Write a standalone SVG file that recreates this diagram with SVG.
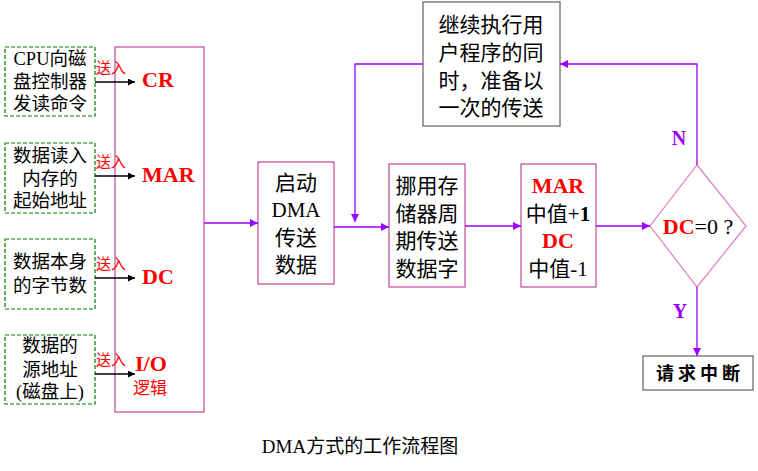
<svg xmlns="http://www.w3.org/2000/svg" width="758" height="471" viewBox="0 0 758 471">
<defs>
<marker id="ab" viewBox="0 0 10 10" refX="10" refY="5" markerWidth="7" markerHeight="7" orient="auto" markerUnits="userSpaceOnUse"><path d="M0,0 L10,5 L0,10 z" fill="#000"/></marker>
<marker id="ap" viewBox="0 0 10 10" refX="10" refY="5" markerWidth="8" markerHeight="8" orient="auto" markerUnits="userSpaceOnUse"><path d="M0,0 L10,5 L0,10 z" fill="#9900FF"/></marker>
</defs>
<style>
text{font-family:"Liberation Serif","Noto Sans CJK SC",serif;fill:#000}
.src{fill:#fff;stroke:#008000;stroke-width:1.2;stroke-dasharray:4,2}
.box{fill:#fff;stroke:#C0479A;stroke-width:1.2}
.gbox{fill:#fff;stroke:#808080;stroke-width:1.5}
.t18{font-size:18.5px}
.t21{font-size:21px}
.red{fill:#FF0000}
.reg{font-size:22px;font-weight:bold;fill:#FF0000}
.sr{font-size:15px;fill:#FF0000}
.pl{fill:none;stroke:#9900FF;stroke-width:1.3}
.bl{fill:none;stroke:#000;stroke-width:1.3}
.lab{font-size:20px;font-weight:bold;fill:#9900FF}
</style>
<rect width="758" height="471" fill="#fff"/>

<g id="src1">
<rect class="src" x="5" y="47" width="90" height="69"/>
<text class="t18" x="50" y="65" text-anchor="middle">CPU向磁</text>
<text class="t18" x="50" y="88" text-anchor="middle">盘控制器</text>
<text class="t18" x="50" y="110" text-anchor="middle">发读命令</text>
</g>
<g id="src2">
<rect class="src" x="5" y="143" width="90" height="70"/>
<text class="t18" x="50" y="162" text-anchor="middle">数据读入</text>
<text class="t18" x="50" y="185" text-anchor="middle">内存的</text>
<text class="t18" x="50" y="207" text-anchor="middle">起始地址</text>
</g>
<g id="src3">
<rect class="src" x="5" y="239" width="90" height="70"/>
<text class="t18" x="50" y="268" text-anchor="middle">数据本身</text>
<text class="t18" x="50" y="292" text-anchor="middle">的字节数</text>
</g>
<g id="src4">
<rect class="src" x="5" y="335" width="90" height="69"/>
<text class="t18" x="50" y="352" text-anchor="middle">数据的</text>
<text class="t18" x="50" y="376" text-anchor="middle">源地址</text>
<text class="t18" x="50" y="398" text-anchor="middle">(磁盘上)</text>
</g>

<g id="regs">
<rect x="115" y="47" width="89" height="365" fill="none" stroke="#C0479A" stroke-width="1.2"/>
<text class="reg" x="142" y="87">CR</text>
<text class="reg" x="142" y="182">MAR</text>
<text class="reg" x="142" y="284">DC</text>
<text class="reg" x="135" y="371">I/O</text>
<text class="red" x="133" y="394" style="font-size:17px">逻辑</text>
</g>

<g id="start">
<rect class="box" x="258" y="162" width="76" height="122"/>
<text class="t21" x="296" y="190" text-anchor="middle">启动</text>
<text class="t21" x="296" y="217" text-anchor="middle">DMA</text>
<text class="t21" x="296" y="245" text-anchor="middle">传送</text>
<text class="t21" x="296" y="272" text-anchor="middle">数据</text>
</g>

<g id="steal">
<rect class="box" x="389" y="164" width="76" height="123"/>
<text class="t21" x="427" y="193" text-anchor="middle">挪用存</text>
<text class="t21" x="427" y="221" text-anchor="middle">储器周</text>
<text class="t21" x="427" y="248" text-anchor="middle">期传送</text>
<text class="t21" x="427" y="276" text-anchor="middle">数据字</text>
</g>

<g id="update">
<rect class="box" x="521" y="164" width="75" height="123"/>
<text class="reg" x="558" y="193" text-anchor="middle">MAR</text>
<text class="t21" x="558" y="221" text-anchor="middle">中值+<tspan font-weight="bold">1</tspan></text>
<text class="reg" x="558" y="248" text-anchor="middle">DC</text>
<text class="t21" x="558" y="276" text-anchor="middle">中值-1</text>
</g>

<g id="cont">
<rect class="gbox" x="423" y="2" width="137" height="124"/>
<text class="t21" x="491" y="32" text-anchor="middle">继续执行用</text>
<text class="t21" x="491" y="60" text-anchor="middle">户程序的同</text>
<text class="t21" x="491" y="88" text-anchor="middle">时，准备以</text>
<text class="t21" x="491" y="115" text-anchor="middle">一次的传送</text>
</g>

<g id="decision">
<polygon points="697,165 746,226 697,287 650,226" fill="#fff" stroke="#E07EC0" stroke-width="1.2"/>
<text x="698" y="234" text-anchor="middle" style="font-size:22px"><tspan font-weight="bold" fill="#FF0000">DC</tspan>=0 ?</text>
</g>

<g id="irq">
<rect class="gbox" x="643" y="356" width="110" height="34"/>
<text x="700" y="380" text-anchor="middle" style="font-size:18px;font-weight:bold;letter-spacing:4px">请求中断</text>
</g>

<g id="connectors">
<line class="bl" x1="95" y1="82" x2="135" y2="82" marker-end="url(#ab)"/>
<line class="bl" x1="95" y1="176" x2="135" y2="176" marker-end="url(#ab)"/>
<line class="bl" x1="95" y1="278" x2="135" y2="278" marker-end="url(#ab)"/>
<line class="bl" x1="95" y1="374" x2="135" y2="374" marker-end="url(#ab)"/>
<line class="pl" x1="204" y1="223" x2="258" y2="223" marker-end="url(#ap)"/>
<line class="pl" x1="334" y1="227" x2="389" y2="227" marker-end="url(#ap)"/>
<polyline class="pl" points="423,64 355,64 355,222" marker-end="url(#ap)"/>
<line class="pl" x1="465" y1="226" x2="521" y2="226" marker-end="url(#ap)"/>
<line class="pl" x1="596" y1="226" x2="650" y2="226" marker-end="url(#ap)"/>
<polyline class="pl" points="697,165 697,64 560,64" marker-end="url(#ap)"/>
<line class="pl" x1="697" y1="287" x2="697" y2="356" marker-end="url(#ap)"/>
<text class="lab" x="679" y="145" text-anchor="middle">N</text>
<text class="lab" x="680" y="318" text-anchor="middle">Y</text>
<text class="sr" x="96" y="73">送入</text>
<text class="sr" x="96" y="167">送入</text>
<text class="sr" x="96" y="269">送入</text>
<text class="sr" x="96" y="365">送入</text>
</g>

<text x="360" y="453" text-anchor="middle" style="font-size:19px">DMA方式的工作流程图</text>
</svg>
